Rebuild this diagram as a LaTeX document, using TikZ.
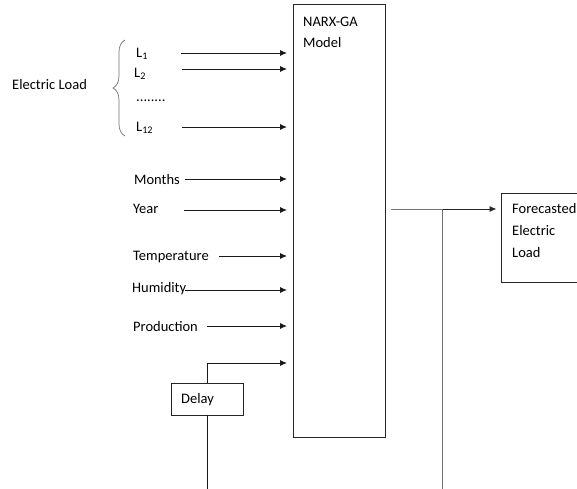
\documentclass[tikz,border=0pt]{standalone}
\usepackage{fontspec}
\setmainfont{Carlito}
\usetikzlibrary{arrows.meta,decorations.pathreplacing}
\begin{document}
\begin{tikzpicture}[x=1pt,y=-1pt,
  lbl/.style={anchor=base west,inner sep=0pt,font=\fontsize{14.5}{17}\selectfont,text=black},
  inarr/.style={draw=black!90,line width=1pt,-{Latex[length=7pt,width=6pt]},shorten >=6pt},
  outline/.style={draw=black!55,line width=1pt},
  box/.style={draw=black!85,line width=0.9pt,rectangle,inner sep=0pt}]
\useasboundingbox (0,0) rectangle (577,488);
\fill[white] (0,0) rectangle (577,488);
% main model box
\node[box,minimum width=92pt,minimum height=433pt] (model) at (339.5,220.5) {};
\node[lbl] (m1) at (303,26) {NARX-GA};
\node[lbl] (m2) at (303,47) {Model};
% forecast box
\node[box,minimum width=80pt,minimum height=89pt] (fc) at (541,237.5) {};
\node[lbl] (f1) at (512,213) {Forecasted};
\node[lbl] (f2) at (512,235) {Electric};
\node[lbl] (f3) at (512,257) {Load};
% delay box
\node[box,minimum width=72pt,minimum height=32pt] (delay) at (207,399) {};
\node[lbl] (dl) at (181,403) {Delay};
% electric load group
\node[lbl] (el) at (12,89) {Electric Load};
\draw[black!55,line width=0.7pt,decorate,decoration={brace,amplitude=12pt}] (125,136) -- (125,40);
\node[lbl] (L1) at (136,57) {L\textsubscript{1}};
\node[lbl] (L2) at (134,77) {L\textsubscript{2}};
\node[lbl] (dots) at (136,101) {........};
\node[lbl] (L12) at (136,131) {L\textsubscript{12}};
\node[lbl] (mo) at (134,184) {Months};
\node[lbl] (yr) at (133,213) {Year};
\node[lbl] (te) at (133,260) {Temperature};
\node[lbl] (hu) at (132,292) {Humidity};
\node[lbl] (pr) at (133,331) {Production};
% arrow starts
\coordinate (aL1) at (181,53);
\coordinate (aL2) at (182,69);
\coordinate (aL12) at (182,127);
\coordinate (amo) at (185,179);
\coordinate (ayr) at (184,210);
\coordinate (ate) at (219,256);
\coordinate (ahu) at (185,290);
\coordinate (apr) at (207,326);
\coordinate (adl) at (207,363);
\foreach \c in {aL1,aL2,aL12,amo,ayr,ate,ahu,apr,adl}
  \draw[inarr] (\c) -- (\c -| model.west);
\draw[draw=black!90,line width=1pt] (delay.north) -- (adl);
\coordinate (dbot) at (207,489);
\draw[draw=black!90,line width=1pt] (delay.south) -- (dbot);
% output
\coordinate (os) at (391,209);
\coordinate (oj) at (442,209);
\coordinate (ob) at (442,489);
\draw[outline] (os) -- (oj);
\draw[outline,draw=black!85,-{Latex[length=7pt,width=6pt]},shorten >=4pt] (oj) -- (oj -| fc.west);
\draw[outline] (oj) -- (ob);
\end{tikzpicture}
\end{document}
